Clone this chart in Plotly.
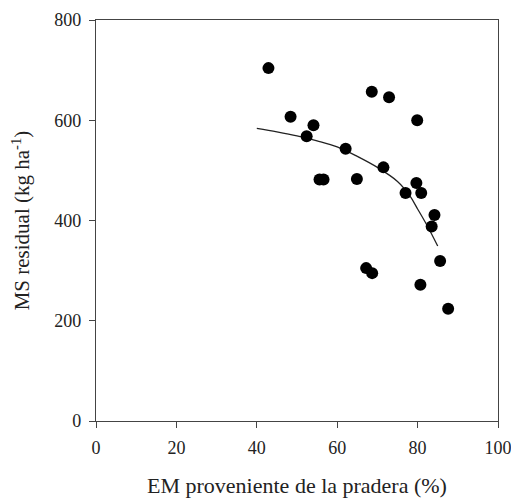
import plotly.graph_objects as go

# observed points: EM from pasture (%) vs residual DM (kg/ha)
em_pradera = [42.9, 48.4, 54.1, 52.4, 62.1, 55.6, 56.6, 64.9, 68.6, 72.9, 71.5,
              79.9, 79.7, 77.0, 80.9, 84.2, 83.5, 85.6, 67.2, 68.7, 80.7, 87.6]
ms_residual = [704, 607, 590, 568, 543, 482, 482, 483, 657, 646, 506,
               600, 475, 455, 455, 411, 388, 319, 305, 295, 272, 224]

# fitted curve
fit_x = [40, 45, 50, 55, 60, 65, 70, 75, 78, 80, 82.5, 85]
fit_y = [584, 577, 569, 559, 547, 528, 506, 478, 450, 423, 388, 349]

serif = "Liberation Serif"

fig = go.Figure()
fig.add_trace(go.Scatter(x=fit_x, y=fit_y, mode="lines",
                         line=dict(color="#222", width=1.3, shape="spline"),
                         showlegend=False))
fig.add_trace(go.Scatter(x=em_pradera, y=ms_residual, mode="markers",
                         marker=dict(color="black", size=12),
                         showlegend=False))

axis_common = dict(showgrid=False, zeroline=False, showline=True, linecolor="#444",
                   linewidth=1.3, mirror=True, ticks="outside", ticklen=6,
                   tickwidth=1.3, tickcolor="#444", automargin=False,
                   ticklabeloverflow="allow",
                   tickfont=dict(family=serif, size=18, color="#222"))

fig.update_layout(
    width=511, height=498,
    margin=dict(l=96, r=13, t=20, b=77),
    font=dict(family=serif, color="#222"),
    plot_bgcolor="white", paper_bgcolor="white",
    xaxis=dict(range=[0, 100], tickvals=[0, 20, 40, 60, 80, 100], ticklabelstandoff=4,
               title=dict(text="EM proveniente de la pradera (%)",
                          font=dict(family=serif, size=22, color="#222"), standoff=22),
               **axis_common),
    yaxis=dict(range=[0, 800], tickvals=[0, 200, 400, 600, 800], ticklabelstandoff=4,
               title=dict(text="MS residual (kg ha<sup>-1</sup>)",
                          font=dict(family=serif, size=21, color="#222"), standoff=18),
               **axis_common),
)

# drop the default body margin so the figure fills the window exactly
fig.write_html("out.html", config={"displayModeBar": False},
               post_script="document.body.style.margin='0';document.body.style.overflow='hidden';")
